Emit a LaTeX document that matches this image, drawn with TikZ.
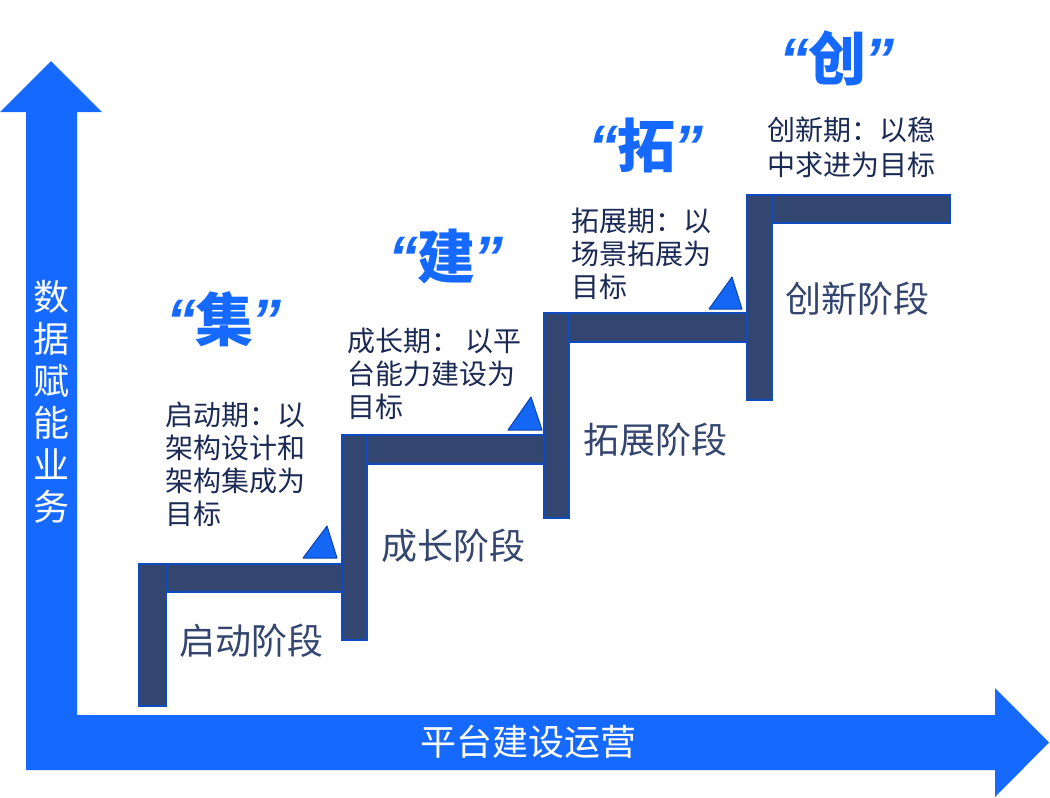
\documentclass[tikz,border=0pt]{standalone}
\usepackage{fontspec}
\setmainfont{Noto Sans CJK SC}
\newfontfamily\qfont{Liberation Sans}
\definecolor{axisblue}{HTML}{1569FF}
\definecolor{barfill}{HTML}{33466F}
\definecolor{barline}{HTML}{0E4AC0}
\definecolor{trifill}{HTML}{1466F5}
\definecolor{triline}{HTML}{0B45B5}
\definecolor{desctext}{HTML}{1A2A55}
\definecolor{stagetext}{HTML}{34466F}
\newcommand{\myLQ}{{\qfont\bfseries\itshape\fontsize{60}{64}\selectfont “}\kern-1.5pt}
\newcommand{\myRQ}{\kern-1.5pt{\qfont\bfseries\itshape\fontsize{60}{64}\selectfont ”}}
\tikzset{
  bar/.style={fill=barfill,draw=barline,line width=1.3pt},
  tri/.style={fill=trifill,draw=triline,line width=1pt,line join=round},
  desc/.style={anchor=north west,inner sep=0pt,align=left,text=desctext,font=\fontsize{28}{33}\selectfont},
  stage/.style={inner sep=0pt,text=stagetext,font=\fontsize{36}{42}\selectfont},
  bigq/.style={inner sep=0pt,text=axisblue,font=\fontsize{58}{64}\selectfont\bfseries},
  axislabel/.style={inner sep=0pt,text=white,align=center,font=\fontsize{36}{42}\selectfont}
}
\begin{document}
\begin{tikzpicture}[x=1pt,y=-1pt]
\useasboundingbox (0,0) rectangle (1050,798);
% axes
\fill[axisblue] (26,770) -- (26,112) -- (0,112) -- (51,61) -- (102,112) -- (77,112)
  -- (77,715) -- (995,715) -- (995,688) -- (1049,742.5) -- (995,797) -- (995,770) -- cycle;
% steps
\draw[bar] (139,564) rectangle (166,706);
\draw[bar] (166,564) rectangle (342,592);
\draw[bar] (342,435) rectangle (367,640);
\draw[bar] (367,435) rectangle (544,464);
\draw[bar] (544,313) rectangle (569,518);
\draw[bar] (569,313) rectangle (747,342);
\draw[bar] (747,195) rectangle (772,400);
\draw[bar] (772,195) rectangle (950,223);
% triangles
\draw[tri] (303,558) -- (327,526) -- (337,558) -- cycle;
\draw[tri] (508,430) -- (531,397) -- (542,430) -- cycle;
\draw[tri] (709,309) -- (732,277) -- (742,309) -- cycle;
% axis labels
\node[axislabel] (ylab) at (52,401.5) {数\\据\\赋\\能\\业\\务};
\node[axislabel] (xlab) at (528,742) {平台建设运营};
% stage labels
\node[stage] (s1) at (251,641) {启动阶段};
\node[stage] (s2) at (453,546) {成长阶段};
\node[stage] (s3) at (655,440) {拓展阶段};
\node[stage] (s4) at (857,299) {创新阶段};
% big quote labels
\node[bigq] (q1) at (224,319) {\myLQ 集\myRQ};
\node[bigq] (q2) at (446,256) {\myLQ 建\myRQ};
\node[bigq] (q3) at (646,145) {\myLQ 拓\myRQ};
\node[bigq] (q4) at (837,58) {\myLQ 创\myRQ};
% descriptions
\node[desc] (d1) at (165,402) {启动期：以\\架构设计和\\架构集成为\\目标};
\node[desc] (d2) at (347,328) {成长期： 以平\\台能力建设为\\目标};
\node[desc] (d3) at (571,208) {拓展期：以\\场景拓展为\\目标};
\node[desc,font=\fontsize{28}{35}\selectfont] (d4) at (767,117) {创新期：以稳\\中求进为目标};
\end{tikzpicture}
\end{document}
